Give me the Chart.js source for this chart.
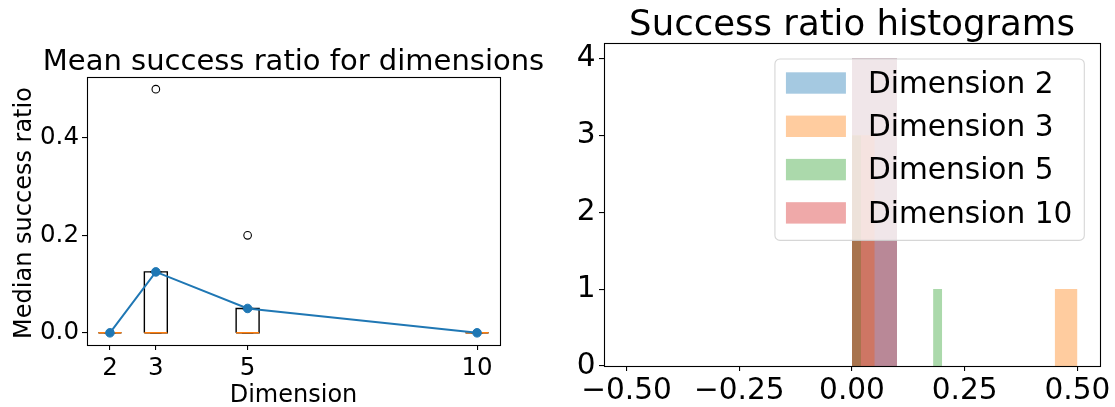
<!DOCTYPE html>
<html>
<head>
<meta charset="utf-8">
<script src="https://cdn.jsdelivr.net/npm/chart.js@4.4.1/dist/chart.umd.min.js"></script>
<style>
  html, body { margin: 0; padding: 0; background: #fff; }
  #wrap { position: relative; width: 1115px; height: 407px; }
  canvas { position: absolute; top: 0; }
  #box-chart { left: 0; }
  #hist-chart { left: 560px; }
</style>
</head>
<body>
<div id="wrap">
  <canvas id="box-chart" width="560" height="407"></canvas>
  <canvas id="hist-chart" width="555" height="407"></canvas>
</div>
<script>
// Left panel: success ratio per dimension
const dimensions = [2, 3, 5, 10];
const meanRatio = [0, 0.125, 0.05, 0];
const boxQ1 = [0, 0, 0, 0];
const boxMedian = [0, 0, 0, 0];
const boxQ3 = [0, 0.125, 0.05, 0];
const whiskerLow = [0, 0, 0, 0];
const whiskerHigh = [0, 0.125, 0.05, 0];
const flierDims = [3, 5];
const flierValues = [0.5, 0.2];
const boxYTicks = [0, 0.2, 0.4];

// Right panel: histogram bins (left edge, right edge, count), non-empty bins only
const histLabels = ['Dimension 2', 'Dimension 3', 'Dimension 5', 'Dimension 10'];
const dim2BinLeft = [0], dim2BinRight = [0.1], dim2Counts = [4];
const dim3BinLeft = [0, 0.45], dim3BinRight = [0.05, 0.5], dim3Counts = [3, 1];
const dim5BinLeft = [0, 0.18], dim5BinRight = [0.02, 0.2], dim5Counts = [3, 1];
const dim10BinLeft = [0], dim10BinRight = [0.1], dim10Counts = [4];
const histXTicks = [-0.5, -0.25, 0, 0.25, 0.5];
const histYTicks = [0, 1, 2, 3, 4];

const FONT = "'DejaVu Sans', sans-serif";
const BLUE = '#1f77b4', ORANGE = '#ff7f0e';
const histColors = ['rgba(31,119,180,0.4)', 'rgba(255,127,14,0.4)', 'rgba(44,160,44,0.4)', 'rgba(214,39,40,0.4)'];
const BOX_HALF = 0.25, CAP_HALF = 0.125;

Chart.defaults.font.family = FONT;
Chart.defaults.color = '#000';

// frame round the plot area plus titles and axis labels
const figureText = {
  id: 'figureText',
  afterDatasetsDraw(chart, args, opts) {
    const { ctx, chartArea: a } = chart;
    ctx.save();
    ctx.strokeStyle = '#000';
    ctx.lineWidth = 1.1;
    ctx.strokeRect(Math.round(a.left) + 0.5, Math.round(a.top) + 0.5,
      Math.round(a.right - a.left), Math.round(a.bottom - a.top));
    ctx.restore();
    if (opts.legend) drawLegend(chart, opts.legend);
  },
  afterDraw(chart, args, opts) {
    const { ctx, chartArea: a } = chart;
    ctx.save();
    ctx.fillStyle = '#000';
    ctx.textAlign = 'center';
    ctx.textBaseline = 'alphabetic';
    const cx = (a.left + a.right) / 2;
    if (opts.title) {
      ctx.font = opts.titleSize + 'px ' + FONT;
      ctx.fillText(opts.title, cx, a.top - opts.titleGap);
    }
    if (opts.xLabel) {
      ctx.font = opts.labelSize + 'px ' + FONT;
      ctx.fillText(opts.xLabel, cx, a.bottom + 56.5);
    }
    if (opts.yLabel) {
      ctx.font = opts.labelSize + 'px ' + FONT;
      ctx.translate(31, (a.top + a.bottom) / 2 + 2);
      ctx.rotate(-Math.PI / 2);
      ctx.fillText(opts.yLabel, 0, 0);
    }
    ctx.restore();
  }
};

function drawLegend(chart, size) {
  const { ctx, chartArea: a } = chart;
  ctx.save();
  ctx.font = size + 'px ' + FONT;
  const sets = chart.data.datasets.filter(d => d.label);
  const textW = Math.max(...sets.map(d => ctx.measureText(d.label).width));
  const w = 11 + 60 + 22 + textW + 12;
  const right = a.right - 15.7, top = a.top + 16, h = 181.4;
  const left = right - w;
  ctx.beginPath();
  ctx.roundRect(left, top, w, h, 5);
  ctx.fillStyle = 'rgba(255,255,255,0.8)';
  ctx.fill();
  ctx.strokeStyle = 'rgba(204,204,204,0.8)';
  ctx.lineWidth = 1.1;
  ctx.stroke();
  sets.forEach((d, i) => {
    const cy = top + 24 + i * 43.3;
    ctx.fillStyle = d.backgroundColor;
    ctx.fillRect(left + 11, cy - 10.7, 60, 21.4);
    ctx.fillStyle = '#000';
    ctx.textAlign = 'left';
    ctx.fillText(d.label, left + 11 + 60 + 22, cy + 9.8);
  });
  ctx.restore();
}

function axisStyle(size, pad) {
  return {
    grid: { drawOnChartArea: false, drawTicks: true, tickLength: 5, color: '#000', lineWidth: 1.1 },
    border: { display: false },
    ticks: { color: '#000', padding: pad, font: { size: size } }
  };
}

// box plot pieces, each a broken line through the scales
const boxLines = [], medianLines = [], whiskerLines = [];
dimensions.forEach((d, i) => {
  boxLines.push({ x: d - BOX_HALF, y: boxQ1[i] }, { x: d + BOX_HALF, y: boxQ1[i] },
    { x: d + BOX_HALF, y: boxQ3[i] }, { x: d - BOX_HALF, y: boxQ3[i] },
    { x: d - BOX_HALF, y: boxQ1[i] }, { x: d, y: null });
  medianLines.push({ x: d - BOX_HALF, y: boxMedian[i] }, { x: d + BOX_HALF, y: boxMedian[i] }, { x: d, y: null });
  whiskerLines.push({ x: d, y: boxQ1[i] }, { x: d, y: whiskerLow[i] }, { x: d, y: null },
    { x: d, y: boxQ3[i] }, { x: d, y: whiskerHigh[i] }, { x: d, y: null },
    { x: d - CAP_HALF, y: whiskerLow[i] }, { x: d + CAP_HALF, y: whiskerLow[i] }, { x: d, y: null },
    { x: d - CAP_HALF, y: whiskerHigh[i] }, { x: d + CAP_HALF, y: whiskerHigh[i] }, { x: d, y: null });
});

const plainLine = { type: 'line', pointRadius: 0, borderWidth: 1.4, spanGaps: false, tension: 0, fill: false };

const boxYAxis = axisStyle(24.5, 3);
boxYAxis.ticks.callback = v => v.toFixed(1);
const boxXAxis = axisStyle(24.5, 4);

new Chart(document.getElementById('box-chart'), {
  type: 'line',
  data: {
    datasets: [
      Object.assign({}, plainLine, { data: boxLines, borderColor: '#000', order: 4 }),
      Object.assign({}, plainLine, { data: whiskerLines, borderColor: '#000', order: 3 }),
      Object.assign({}, plainLine, { data: medianLines, borderColor: ORANGE, order: 2 }),
      {
        type: 'line', showLine: false, order: 2,
        data: flierDims.map((d, i) => ({ x: d, y: flierValues[i] })),
        pointRadius: 3.8, pointBorderWidth: 1.1, pointBorderColor: '#000', pointBackgroundColor: 'rgba(0,0,0,0)'
      },
      {
        type: 'line', order: 1, tension: 0, fill: false,
        data: dimensions.map((d, i) => ({ x: d, y: meanRatio[i] })),
        borderColor: BLUE, borderWidth: 2, pointRadius: 4.3, pointBackgroundColor: BLUE, pointBorderColor: BLUE, pointBorderWidth: 1
      }
    ]
  },
  options: {
    responsive: false, animation: false, events: [],
    layout: { padding: { top: 77, right: 60, bottom: 0, left: 0 } },
    scales: {
      x: Object.assign(boxXAxis, {
        type: 'linear', min: 1.5, max: 10.5,
        afterBuildTicks: s => { s.ticks = dimensions.map(v => ({ value: v })); },
        afterFit: s => { s.height = 62; }
      }),
      y: Object.assign(boxYAxis, {
        type: 'linear', min: -0.025, max: 0.525,
        afterBuildTicks: s => { s.ticks = boxYTicks.map(v => ({ value: v })); },
        afterFit: s => { s.width = 87; }
      })
    },
    plugins: {
      legend: { display: false }, tooltip: { enabled: false },
      figureText: {
        title: 'Mean success ratio for dimensions', titleSize: 29, titleGap: 7.5,
        xLabel: 'Dimension', yLabel: 'Median success ratio', labelSize: 24
      }
    }
  },
  plugins: [figureText]
});

// histogram bars as filled outlines
function histOutline(left, right, counts) {
  const pts = [];
  left.forEach((l, i) => {
    pts.push({ x: l, y: 0 }, { x: l, y: counts[i] }, { x: right[i], y: counts[i] }, { x: right[i], y: 0 });
  });
  return pts;
}

const histSeries = [
  histOutline(dim2BinLeft, dim2BinRight, dim2Counts),
  histOutline(dim3BinLeft, dim3BinRight, dim3Counts),
  histOutline(dim5BinLeft, dim5BinRight, dim5Counts),
  histOutline(dim10BinLeft, dim10BinRight, dim10Counts)
];

const histXAxis = axisStyle(29.6, 3);
histXAxis.ticks.callback = v => v.toFixed(2).replace('-', '\u2212');
const histYAxis = axisStyle(29.6, 3.5);

new Chart(document.getElementById('hist-chart'), {
  type: 'line',
  data: {
    datasets: histSeries.map((pts, i) => ({
      label: histLabels[i], data: pts, order: 4 - i,
      fill: 'origin', backgroundColor: histColors[i], borderColor: 'rgba(0,0,0,0)', borderWidth: 0,
      pointRadius: 0, tension: 0
    }))
  },
  options: {
    responsive: false, animation: false, events: [],
    layout: { padding: { top: 43, right: 15, bottom: 0, left: 0 } },
    scales: {
      x: Object.assign(histXAxis, {
        type: 'linear', min: -0.55, max: 0.55,
        afterBuildTicks: s => { s.ticks = histXTicks.map(v => ({ value: v })); },
        afterFit: s => { s.height = 41; }
      }),
      y: Object.assign(histYAxis, {
        type: 'linear', min: 0, max: 4.2,
        afterBuildTicks: s => { s.ticks = histYTicks.map(v => ({ value: v })); },
        afterFit: s => { s.width = 44; }
      })
    },
    plugins: {
      legend: { display: false }, tooltip: { enabled: false },
      filler: { propagate: false },
      figureText: { title: 'Success ratio histograms', titleSize: 35.5, titleGap: 8.3, legend: 29.6 }
    }
  },
  plugins: [figureText]
});
</script>
</body>
</html>
